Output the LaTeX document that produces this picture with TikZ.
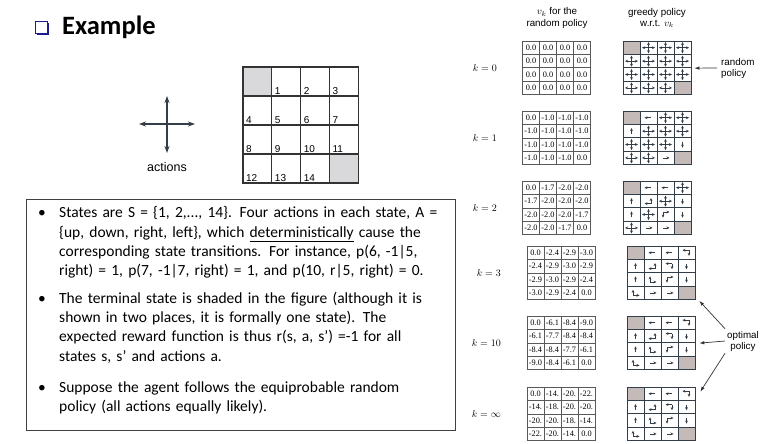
\documentclass[tikz,border=0pt]{standalone}
\usepackage{fontspec}
\setmainfont{Carlito}
\newfontfamily\helv{Liberation Sans}
\newfontfamily\tms{Liberation Serif}
\usetikzlibrary{positioning,arrows.meta}

\definecolor{gridline}{RGB}{52,62,72}
\definecolor{termfill}{RGB}{196,186,183}
\definecolor{stategray}{RGB}{217,217,219}
\definecolor{bulletblue}{RGB}{28,28,140}

% value table: name, left, top, 16 entries
\newcommand{\valuegrid}[4]{%
  \foreach \val [count=\i from 0] in {#4} {
    \pgfmathtruncatemacro\col{mod(\i,4)}
    \pgfmathtruncatemacro\row{div(\i,4)}
    \node[valcell] (#1-\i) at ({#2+8.5+17*\col},{#3+6.7+13.4*\row}) {\val};
  }}

% greedy policy: name, left, top, 16 entries up/down/left/right
\newcommand{\policygrid}[4]{%
  \foreach \up/\dn/\lf/\rt [count=\i from 0] in {#4} {
    \pgfmathtruncatemacro\col{mod(\i,4)}
    \pgfmathtruncatemacro\row{div(\i,4)}
    \pgfmathtruncatemacro\nd{\up+\dn+\lf+\rt}
    \ifnum\nd=0 \def\cfill{termfill}\else\def\cfill{white}\fi
    \node[polcell, fill=\cfill] (#1-\i) at ({#2+8.5+17*\col},{#3+6.7+13.4*\row}) {};
    \pgfmathsetmacro\cx{-2.5*(\rt-\lf)}
    \pgfmathsetmacro\cy{-2.5*(\dn-\up)}
    \coordinate (#1-\i-o) at ([shift={(\cx,\cy)}]#1-\i.center);
    \ifnum\up=1 \draw[cellarrow] (#1-\i-o) -- ++(0,-5.6);\fi
    \ifnum\dn=1 \draw[cellarrow] (#1-\i-o) -- ++(0,5.6);\fi
    \ifnum\lf=1 \draw[cellarrow] (#1-\i-o) -- ++(-6.5,0);\fi
    \ifnum\rt=1 \draw[cellarrow] (#1-\i-o) -- ++(6.5,0);\fi
  }}

\begin{document}
\begin{tikzpicture}[x=1pt, y=-1pt,
  valcell/.style={draw=black!65, line width=0.6pt, minimum width=17pt, minimum height=13.4pt, inner sep=0pt, font=\tms\fontsize{8.3}{9}\selectfont},
  polcell/.style={draw=gridline, line width=0.7pt, minimum width=17pt, minimum height=13.4pt, inner sep=0pt},
  cellarrow/.style={-{Stealth[length=3pt,width=2.8pt]}, line width=0.5pt, gridline},
  statecell/.style={draw=black!80, line width=1.1pt, minimum width=28.8pt, minimum height=29pt, inner sep=0pt},
  statenum/.style={anchor=base west, inner sep=0pt, font=\helv\fontsize{10}{12}\selectfont},
  klabel/.style={anchor=east, inner sep=0pt, font=\fontsize{10}{12}\selectfont},
  header/.style={align=center, font=\helv\fontsize{9.8}{11.3}\selectfont},
  sidelabel/.style={inner sep=2pt, font=\helv\fontsize{9.8}{11}\selectfont},
  pointer/.style={-{Latex[length=5pt,width=3.5pt]}, line width=0.7pt, black!80},
  actarrow/.style={{Stealth[length=7pt,width=5pt]}-{Stealth[length=7pt,width=5pt]}, line width=1.2pt, gridline}]

  \useasboundingbox (0,0) rectangle (777,444);

  % title
  \node[fill=bulletblue, minimum size=11.5pt, inner sep=0pt] (titleshadow) at (43,29) {};
  \node[draw=bulletblue, fill=white, line width=0.7pt, minimum size=11.5pt, inner sep=0pt] (titlebox) at (41.5,27.5) {};
  \node[anchor=west, inner sep=0pt, font=\bfseries\fontsize{26.5}{30}\selectfont] (title) at (62,27) {Example};

  % actions
  \coordinate (actL) at (139,124);
  \coordinate (actR) at (195,124);
  \coordinate (actU) at (167,96);
  \coordinate (actD) at (167,153);
  \draw[actarrow] (actL) -- (actR);
  \draw[actarrow] (actU) -- (actD);
  \node[font=\helv\fontsize{12.5}{14}\selectfont] (actions) at (167,167) {actions};

  % gridworld
  \foreach \i in {0,...,15} {
    \pgfmathtruncatemacro\col{mod(\i,4)}
    \pgfmathtruncatemacro\row{div(\i,4)}
    \pgfmathtruncatemacro\isterm{(\i==0)||(\i==15)}
    \ifnum\isterm=1 \def\sfill{stategray}\else\def\sfill{white}\fi
    \node[statecell, fill=\sfill] (s\i) at ({243+14.4+28.8*\col},{67+14.5+29*\row}) {};
  }
  \foreach \i in {1,...,14}
    \node[statenum] (n\i) at ([shift={(3.5,-2.5)}]s\i.south west) {\i};

  % description
  \node[draw=black!75, line width=1pt, anchor=north west, minimum width=429pt, minimum height=231pt, inner sep=0pt] (descbox) at (26,199) {};
  \node[anchor=north west, inner sep=0pt, text width=412pt, font=\fontsize{15.5}{19.3}\selectfont] (desc) at ([shift={(12,7.5)}]descbox.north west) {%
    \parindent=0pt
    {\hangindent=21pt\hangafter=1\makebox[21pt][l]{\textbullet}States are S = \{1, 2,..., 14\}. Four actions in each state, A =\newline
    \{up, down, right, left\}, which \underline{deterministically} cause the\newline
    corresponding state transitions. For instance, p(6, -1|5,\newline
    right) = 1, p(7, -1|7, right) = 1, and p(10, r|5, right) = 0.\par}
    \vskip 8pt
    {\hangindent=21pt\hangafter=1\makebox[21pt][l]{\textbullet}The terminal state is shaded in the figure (although it is\newline
    shown in two places, it is formally one state). The\newline
    expected reward function is thus r(s, a, s’) =-1 for all\newline
    states s, s’ and actions a.\par}
    \vskip 12pt
    {\hangindent=21pt\hangafter=1\makebox[21pt][l]{\textbullet}Suppose the agent follows the equiprobable random\newline
    policy (all actions equally likely).\par}};

  % headers
  \node[header] (vkhead) at (557,18) {$v_k$ for the\\random policy};
  \node[header] (greedyhead) at (657,18) {greedy policy\\w.r.t. $v_k$};

  % k labels
  \node[klabel] (k0) at (497,68) {$k=0$};
  \node[klabel] (k1) at (497,138) {$k=1$};
  \node[klabel] (k2) at (497,208) {$k=2$};
  \node[klabel] (k3) at (501,273) {$k=3$};
  \node[klabel] (k10) at (501,343) {$k=10$};
  \node[klabel] (kinf) at (501,414) {$k=\infty$};

  % value tables
  \valuegrid{v0}{522.5}{41}{0.0,0.0,0.0,0.0, 0.0,0.0,0.0,0.0, 0.0,0.0,0.0,0.0, 0.0,0.0,0.0,0.0}
  \valuegrid{v1}{522.5}{111}{0.0,-1.0,-1.0,-1.0, -1.0,-1.0,-1.0,-1.0, -1.0,-1.0,-1.0,-1.0, -1.0,-1.0,-1.0,0.0}
  \valuegrid{v2}{522.5}{181}{0.0,-1.7,-2.0,-2.0, -1.7,-2.0,-2.0,-2.0, -2.0,-2.0,-2.0,-1.7, -2.0,-2.0,-1.7,0.0}
  \valuegrid{v3}{527}{246}{0.0,-2.4,-2.9,-3.0, -2.4,-2.9,-3.0,-2.9, -2.9,-3.0,-2.9,-2.4, -3.0,-2.9,-2.4,0.0}
  \valuegrid{v10}{527}{316}{0.0,-6.1,-8.4,-9.0, -6.1,-7.7,-8.4,-8.4, -8.4,-8.4,-7.7,-6.1, -9.0,-8.4,-6.1,0.0}
  \valuegrid{vinf}{527}{387}{0.0,-14.,-20.,-22., -14.,-18.,-20.,-20., -20.,-20.,-18.,-14., -22.,-20.,-14.,0.0}

  % greedy policies
  \policygrid{p0}{623}{41}{0/0/0/0, 1/1/1/1, 1/1/1/1, 1/1/1/1, 1/1/1/1, 1/1/1/1, 1/1/1/1, 1/1/1/1, 1/1/1/1, 1/1/1/1, 1/1/1/1, 1/1/1/1, 1/1/1/1, 1/1/1/1, 1/1/1/1, 0/0/0/0}
  \policygrid{p1}{623}{111}{0/0/0/0, 0/0/1/0, 1/1/1/1, 1/1/1/1, 1/0/0/0, 1/1/1/1, 1/1/1/1, 1/1/1/1, 1/1/1/1, 1/1/1/1, 1/1/1/1, 0/1/0/0, 1/1/1/1, 1/1/1/1, 0/0/0/1, 0/0/0/0}
  \policygrid{p2}{623}{181}{0/0/0/0, 0/0/1/0, 0/0/1/0, 1/1/1/1, 1/0/0/0, 1/0/1/0, 1/1/1/1, 0/1/0/0, 1/0/0/0, 1/1/1/1, 0/1/0/1, 0/1/0/0, 1/1/1/1, 0/0/0/1, 0/0/0/1, 0/0/0/0}
  \policygrid{p3}{627}{246}{0/0/0/0, 0/0/1/0, 0/0/1/0, 0/1/1/0, 1/0/0/0, 1/0/1/0, 0/1/1/0, 0/1/0/0, 1/0/0/0, 1/0/0/1, 0/1/0/1, 0/1/0/0, 1/0/0/1, 0/0/0/1, 0/0/0/1, 0/0/0/0}
  \policygrid{p10}{627}{316}{0/0/0/0, 0/0/1/0, 0/0/1/0, 0/1/1/0, 1/0/0/0, 1/0/1/0, 0/1/1/0, 0/1/0/0, 1/0/0/0, 1/0/0/1, 0/1/0/1, 0/1/0/0, 1/0/0/1, 0/0/0/1, 0/0/0/1, 0/0/0/0}
  \policygrid{pinf}{627}{387}{0/0/0/0, 0/0/1/0, 0/0/1/0, 0/1/1/0, 1/0/0/0, 1/0/1/0, 0/1/1/0, 0/1/0/0, 1/0/0/0, 1/0/0/1, 0/1/0/1, 0/1/0/0, 1/0/0/1, 0/0/0/1, 0/0/0/1, 0/0/0/0}

  % side labels
  \node[sidelabel, anchor=west, align=left] (randlbl) at (719,68) {random\\policy};
  \draw[pointer, shorten <=2pt] (randlbl.west) -- ([xshift=3pt]p0-7.south east);

  \node[sidelabel, align=center] (optlbl) at (743,341) {optimal\\policy};
  \draw[pointer] (optlbl.north west) -- ([shift={(4,1)}]p3-15.south east);
  \draw[pointer] (optlbl.west) -- ([xshift=4pt]p10-7.south east);
  \draw[pointer] (optlbl.south west) -- ([shift={(5,5)}]pinf-3.north east);
\end{tikzpicture}
\end{document}
